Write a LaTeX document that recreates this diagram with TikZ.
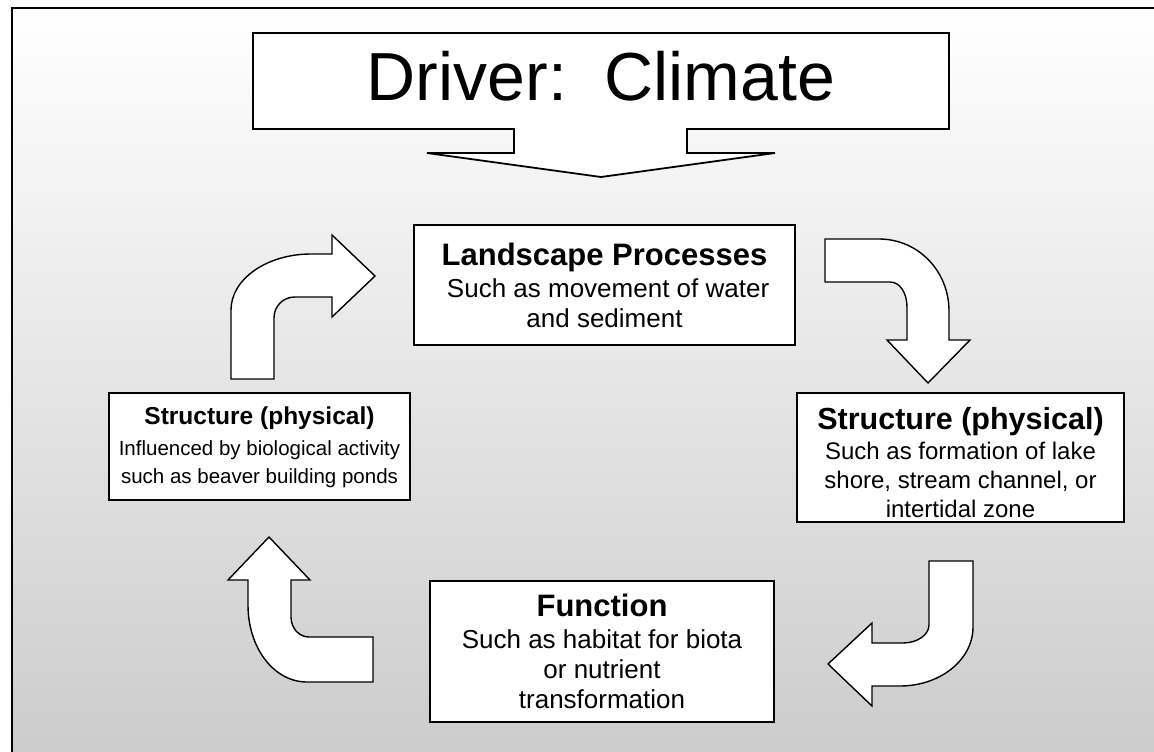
\documentclass[tikz,border=0pt]{standalone}
\usepackage{fontspec}
\setmainfont{Liberation Sans}
\definecolor{bgbottom}{RGB}{204,204,204}
\begin{document}
\begin{tikzpicture}[x=1pt,y=-1pt,
  box/.style={draw=black, fill=white, line width=1.8pt, inner sep=0pt},
  label/.style={inner sep=0pt, align=center},
  bent/.style={draw=black, fill=white, line width=1.4pt, line join=miter},
  callout/.style={draw=black, fill=white, line width=1.8pt, line join=miter}]
\useasboundingbox (0,0) rectangle (1154,752);

% background panel with its frame
\shade[top color=white, bottom color=bgbottom] (12,8) rectangle (1154,752);
\draw[line width=2.5pt] (12,752) -- (12,8) -- (1154,8);

% driver callout with its down arrow
\draw[callout] (253,33) -- (949,33) -- (949,129) -- (687,129) -- (687,153)
  -- (775,153) -- (601,177) -- (427,153) -- (514,153) -- (514,129)
  -- (253,129) -- cycle;
\node[anchor=base, inner sep=0pt, font=\fontsize{68}{70}\selectfont]
  (driver) at (601,100) {Driver:\ \ Climate};

% process boxes
\node[box, minimum width=381pt, minimum height=120pt] (lp) at (604.5,285) {};
\node[label, font=\fontsize{26}{30}\selectfont] (lptext) at (lp.center)
  {{\fontsize{31}{33}\selectfont\bfseries Landscape Processes}\\[2pt]
   \ Such as movement of water\\ and sediment};

\node[box, minimum width=301pt, minimum height=107pt] (sl) at (259.5,446.5) {};
\node[label, font=\fontsize{20.5}{28}\selectfont] (sltext) at ([yshift=-1pt]sl.center)
  {{\fontsize{24.5}{27}\selectfont\bfseries Structure (physical)}\\[3pt]
   Influenced by biological activity\\ such as beaver building ponds};

\node[box, minimum width=327pt, minimum height=129pt] (sr) at (960.5,457.5) {};
\node[label, font=\fontsize{24}{29}\selectfont] (srtext) at ([yshift=-5pt]sr.center)
  {{\fontsize{30.5}{33}\selectfont\bfseries Structure (physical)}\\[1pt]
   Such as formation of lake\\ shore, stream channel, or\\ intertidal zone};

\node[box, minimum width=344pt, minimum height=141pt] (fn) at (602,651.5) {};
\node[label, font=\fontsize{26}{30}\selectfont] (fntext) at (fn.center)
  {{\fontsize{31}{33}\selectfont\bfseries Function}\\[2pt]
   Such as habitat for biota\\ or nutrient\\ transformation};

% bent arrow: up and right into the landscape box
\draw[bent] (231,379) -- (231,310) .. controls (231,279) and (267,254) .. (311,254)
  -- (332,254) -- (332,235) -- (375,276) -- (332,317) -- (332,297) -- (295,297)
  .. controls (283,297) and (274,306) .. (274,318) -- (274,379) -- cycle;

% bent arrow: right and down towards the right structure box
\draw[bent] (825,239) -- (879,239) .. controls (918,239) and (949,271) .. (949,311)
  -- (949,340) -- (970,340) -- (928,383) -- (887,340) -- (907,340) -- (907,307)
  .. controls (907,293) and (900,282) .. (890,282) -- (825,282) -- cycle;

% bent arrow: down and left towards the function box
\draw[bent] (929,561) -- (973,561) -- (973,627) .. controls (973,660) and (940,686) .. (900,686)
  -- (872,686) -- (872,706) -- (828,664) -- (872,623) -- (872,643) -- (903,643)
  .. controls (917,643) and (929,635) .. (929,625) -- cycle;

% bent arrow: left and up towards the left structure box
\draw[bent] (373,637) -- (373,682) -- (307,682) .. controls (274,682) and (248,648) .. (248,605)
  -- (248,580) -- (228,580) -- (269,537) -- (310,580) -- (291,580) -- (291,617)
  .. controls (291,628) and (299,637) .. (309,637) -- cycle;
\end{tikzpicture}
\end{document}
